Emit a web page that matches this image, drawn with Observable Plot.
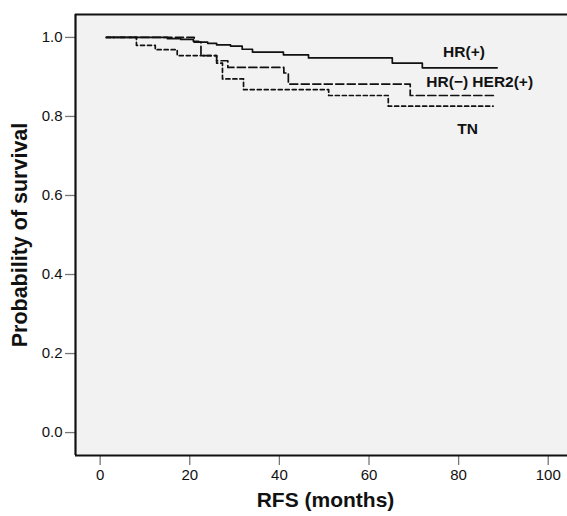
<!DOCTYPE html>
<html>
<head>
<meta charset="utf-8">
<script src="https://cdn.jsdelivr.net/npm/d3@7"></script>
<script src="https://cdn.jsdelivr.net/npm/@observablehq/plot@0.6"></script>
<style>
  body { margin: 0; background: #fff; }
  #chart svg { display: block; }
  #chart g[aria-label="x-axis tick"] path, #chart g[aria-label="y-axis tick"] path { stroke: #777; stroke-width: 1.3; }
  #chart g[aria-label="x-axis tick label"], #chart g[aria-label="y-axis tick label"] { fill: #111; font-size: 15px; }
</style>
</head>
<body>
<div id="chart"></div>
<script>
// Kaplan–Meier step curves (months, survival probability)
const hrPosMonths   = [1.4, 15.0, 18.0, 20.8, 22.0, 24.0, 26.0, 29.1, 31.7, 34.0, 40.9, 46.5, 65.2, 71.9, 88.6];
const hrPosSurv     = [1.0, 0.997, 0.995, 0.990, 0.988, 0.985, 0.981, 0.978, 0.970, 0.963, 0.956, 0.948, 0.935, 0.923, 0.923];

const her2Months    = [1.4, 21.0, 22.5, 26.0, 28.5, 41.0, 42.0, 69.2, 88.2];
const her2Surv      = [1.0, 0.988, 0.954, 0.941, 0.924, 0.910, 0.882, 0.853, 0.853];

const tnMonths      = [1.4, 8.1, 12.3, 17.2, 26.0, 27.3, 32.0, 51.0, 64.3, 87.7];
const tnSurv        = [1.0, 0.980, 0.969, 0.954, 0.935, 0.895, 0.868, 0.853, 0.826, 0.826];

const groupLabels   = ["HR(+)", "HR(\u2212) HER2(+)", "TN"];
const labelMonths   = [81.2, 84.7, 82.0];
const labelSurv     = [0.963, 0.887, 0.767];

const xTicks = [0, 20, 40, 60, 80, 100];
const yTicks = [0.0, 0.2, 0.4, 0.6, 0.8, 1.0];

const xTitle = "RFS (months)";
const yTitle = "Probability of survival";

const toRows = (ms, ss) => ms.map((m, i) => ({t: m, s: ss[i]}));
const hrPos = toRows(hrPosMonths, hrPosSurv);
const her2 = toRows(her2Months, her2Surv);
const tn = toRows(tnMonths, tnSurv);
const labels = groupLabels.map((g, i) => ({g, t: labelMonths[i], s: labelSurv[i]}));

const xDom = [-5.5, 104.3];
const yDom = [-0.058, 1.058];

const chart = Plot.plot({
  width: 567,
  height: 516,
  marginLeft: 75,
  marginRight: 0,
  marginTop: 14,
  marginBottom: 61,
  style: {fontFamily: "'Liberation Sans', Arial, sans-serif", fontSize: "15px", background: "#fff", overflow: "hidden"},
  x: {domain: xDom, ticks: xTicks, tickSize: 10, tickPadding: 4, tickFormat: d3.format("d"), label: null},
  y: {domain: yDom, ticks: yTicks, tickSize: 10, tickPadding: 3, tickFormat: d3.format(".1f"), label: null},
  marks: [
    Plot.frame({fill: "#f1f2f1", stroke: null}),
    Plot.ruleX([xDom[0]], {stroke: "#111", strokeWidth: 2.2}),
    Plot.ruleY([yDom[0]], {stroke: "#111", strokeWidth: 2.2}),
    Plot.ruleY([yDom[1]], {stroke: "#111", strokeWidth: 2.2}),
    Plot.line(tn, {x: "t", y: "s", curve: "step-after", stroke: "#111", strokeWidth: 1.7, strokeDasharray: "4,3"}),
    Plot.line(her2, {x: "t", y: "s", curve: "step-after", stroke: "#111", strokeWidth: 1.7, strokeDasharray: "8,3.5"}),
    Plot.line(hrPos, {x: "t", y: "s", curve: "step-after", stroke: "#111", strokeWidth: 1.7}),
    Plot.text(labels, {x: "t", y: "s", text: "g", fontWeight: "bold", fontSize: 15.5, fill: "#111"}),
    Plot.text([yTitle], {frameAnchor: "left", textAnchor: "middle", dx: -55, rotate: -90, fontWeight: "bold", fontSize: 21.5, fill: "#111"}),
    Plot.text([xTitle], {frameAnchor: "bottom", textAnchor: "middle", dx: 4, dy: 51, fontWeight: "bold", fontSize: 21, fill: "#111"})
  ]
});
document.getElementById("chart").appendChild(chart);
</script>
</body>
</html>
